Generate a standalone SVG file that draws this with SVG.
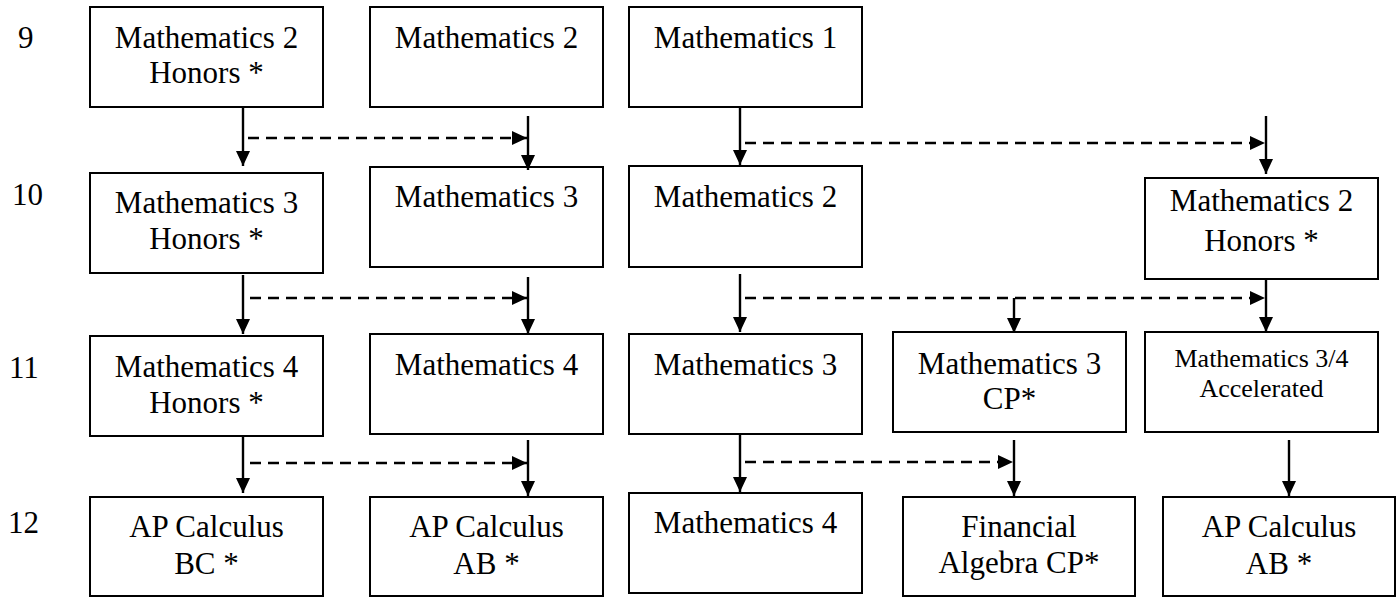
<svg xmlns="http://www.w3.org/2000/svg" width="1400" height="597" viewBox="0 0 1400 597" font-family="'Liberation Serif', 'DejaVu Serif', serif">
<style>
text{font-family:'Liberation Serif','DejaVu Serif',serif;font-size:31px;fill:#000;}
.c{text-anchor:middle;}
.s{font-size:26px;}
rect{fill:#fff;stroke:#000;stroke-width:2;}
.ln{stroke:#000;stroke-width:2.4;fill:none;}
.d{stroke-dasharray:11 7;}
</style>
<defs>
<marker id="ah" markerUnits="userSpaceOnUse" markerWidth="16" markerHeight="16" viewBox="0 0 16 14" refX="15" refY="7" orient="auto">
<path d="M0,0 L15,7 L0,14 z" fill="#000"/>
</marker>
</defs>
<g id="labels" font-family="'Liberation Serif', serif">
<text x="18" y="48">9</text>
<text x="12" y="205">10</text>
<text x="9" y="378">11</text>
<text x="8" y="533">12</text>
</g>
<g id="n1"><rect x="90" y="7" width="233" height="100"/><text class="c" x="206.5" y="48">Mathematics 2</text><text class="c" x="206.5" y="83">Honors *</text></g>
<g id="n2"><rect x="370" y="7" width="233" height="100"/><text class="c" x="486.5" y="48">Mathematics 2</text></g>
<g id="n3"><rect x="629" y="7" width="233" height="100"/><text class="c" x="745.5" y="48">Mathematics 1</text></g>
<g id="n4"><rect x="90" y="173" width="233" height="100"/><text class="c" x="206.5" y="213">Mathematics 3</text><text class="c" x="206.5" y="249">Honors *</text></g>
<g id="n5"><rect x="370" y="167" width="233" height="100"/><text class="c" x="486.5" y="207">Mathematics 3</text></g>
<g id="n6"><rect x="629" y="166" width="233" height="101"/><text class="c" x="745.5" y="207">Mathematics 2</text></g>
<g id="n7"><rect x="1145" y="178" width="233" height="101"/><text class="c" x="1261.5" y="211">Mathematics 2</text><text class="c" x="1261.5" y="251">Honors *</text></g>
<g id="n8"><rect x="90" y="336" width="233" height="100"/><text class="c" x="206.5" y="377">Mathematics 4</text><text class="c" x="206.5" y="413">Honors *</text></g>
<g id="n9"><rect x="370" y="334" width="233" height="100"/><text class="c" x="486.5" y="375">Mathematics 4</text></g>
<g id="n10"><rect x="629" y="334" width="233" height="100"/><text class="c" x="745.5" y="375">Mathematics 3</text></g>
<g id="n11"><rect x="893" y="332" width="233" height="100"/><text class="c" x="1009.5" y="374">Mathematics 3</text><text class="c" x="1009.5" y="409">CP*</text></g>
<g id="n12"><rect x="1145" y="332" width="233" height="100"/><text class="c s" x="1261.5" y="367">Mathematics 3/4</text><text class="c s" x="1261.5" y="397">Accelerated</text></g>
<g id="n13"><rect x="90" y="497" width="233" height="99"/><text class="c" x="206.5" y="537">AP Calculus</text><text class="c" x="206.5" y="574">BC *</text></g>
<g id="n14"><rect x="370" y="497" width="233" height="99"/><text class="c" x="486.5" y="537">AP Calculus</text><text class="c" x="486.5" y="574">AB *</text></g>
<g id="n15"><rect x="629" y="493" width="233" height="100"/><text class="c" x="745.5" y="533">Mathematics 4</text></g>
<g id="n16"><rect x="903" y="497" width="232" height="99"/><text class="c" x="1019" y="537">Financial</text><text class="c" x="1019" y="573">Algebra CP*</text></g>
<g id="n17"><rect x="1163" y="497" width="232" height="99"/><text class="c" x="1279" y="537">AP Calculus</text><text class="c" x="1279" y="574">AB *</text></g>
<g id="connectors">
<line class="ln" x1="243" y1="107" x2="243" y2="166" marker-end="url(#ah)"/>
<line class="ln d" x1="248" y1="138" x2="527" y2="138" marker-end="url(#ah)"/>
<line class="ln" x1="528" y1="116" x2="528" y2="170" marker-end="url(#ah)"/>
<line class="ln" x1="740" y1="107" x2="740" y2="165" marker-end="url(#ah)"/>
<line class="ln d" x1="745" y1="143" x2="1265" y2="143" marker-end="url(#ah)"/>
<line class="ln" x1="1266" y1="116" x2="1266" y2="174" marker-end="url(#ah)"/>
<line class="ln" x1="243" y1="275" x2="243" y2="334" marker-end="url(#ah)"/>
<line class="ln d" x1="250" y1="298" x2="527" y2="298" marker-end="url(#ah)"/>
<line class="ln" x1="528" y1="277" x2="528" y2="334" marker-end="url(#ah)"/>
<line class="ln" x1="740" y1="274" x2="740" y2="332" marker-end="url(#ah)"/>
<line class="ln d" x1="745" y1="298" x2="1265" y2="298" marker-end="url(#ah)"/>
<line class="ln" x1="1014" y1="298" x2="1014" y2="333" marker-end="url(#ah)"/>
<line class="ln" x1="1266" y1="279" x2="1266" y2="332" marker-end="url(#ah)"/>
<line class="ln" x1="243" y1="436" x2="243" y2="493" marker-end="url(#ah)"/>
<line class="ln d" x1="250" y1="463" x2="527" y2="463" marker-end="url(#ah)"/>
<line class="ln" x1="528" y1="440" x2="528" y2="496" marker-end="url(#ah)"/>
<line class="ln" x1="740" y1="434" x2="740" y2="492" marker-end="url(#ah)"/>
<line class="ln d" x1="745" y1="462" x2="1013" y2="462" marker-end="url(#ah)"/>
<line class="ln" x1="1014" y1="440" x2="1014" y2="496" marker-end="url(#ah)"/>
<line class="ln" x1="1289" y1="440" x2="1289" y2="496" marker-end="url(#ah)"/>
</g>
</svg>
